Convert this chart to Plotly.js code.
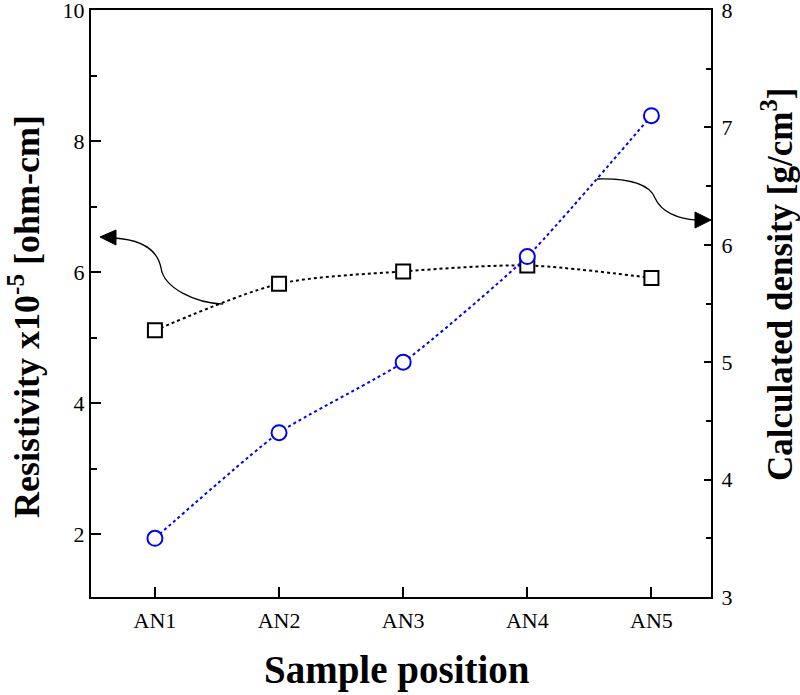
<!DOCTYPE html>
<html>
<head>
<meta charset="utf-8">
<script src="https://cdn.plot.ly/plotly-3.0.1.min.js"></script>
<style>
  html, body { margin: 0; padding: 0; background: #fff; }
  #plot { width: 800px; height: 695px; }
</style>
</head>
<body>
<div id="plot"></div>
<script>
  // sample positions along the bar
  let samples = ["AN1", "AN2", "AN3", "AN4", "AN5"];
  // resistivity x10^-5 ohm-cm (squares, left axis)
  let resistivity = [5.11, 5.82, 6.01, 6.1, 5.91];
  // calculated density g/cm3 (circles, right axis)
  let density = [3.5, 4.4, 5.0, 5.9, 7.1];

  let W = 800, H = 695;
  let M = { l: 91, r: 89, t: 10, b: 98 };
  let plotW = W - M.l - M.r, plotH = H - M.t - M.b;

  // pixel -> paper helpers, only used for the decorative arrows
  let px = (X) => ((X - M.l) / plotW).toFixed(4);
  let py = (Y) => ((H - M.b - Y) / plotH).toFixed(4);
  let pathOf = (pts) =>
    pts
      .map((seg) => seg[0] + " " + seg.slice(1).map((p) => px(p[0]) + "," + py(p[1])).join(" "))
      .join(" ");

  let serif = "Liberation Serif, Times New Roman, serif";
  let tickFont = { family: serif, size: 22, color: "#000" };
  let titleFont = { family: serif, size: 36, color: "#000" };

  let traces = [
    {
      x: samples,
      y: resistivity,
      type: "scatter",
      mode: "lines+markers",
      line: { color: "#000", width: 2, dash: "dot", shape: "spline", smoothing: 0.8 },
      marker: { symbol: "square", size: 14, color: "#fff", line: { width: 2, color: "#000" } },
      yaxis: "y",
      hoverinfo: "x+y",
    },
    {
      x: samples,
      y: density,
      type: "scatter",
      mode: "lines+markers",
      line: { color: "#0000ff", width: 2, dash: "dot", shape: "spline", smoothing: 0.5 },
      marker: { symbol: "circle", size: 15, color: "#fff", line: { width: 2, color: "#0000ff" } },
      yaxis: "y2",
      hoverinfo: "x+y",
    },
  ];

  let axisCommon = {
    showline: true,
    linecolor: "#000",
    linewidth: 2,
    showgrid: false,
    zeroline: false,
    ticks: "inside",
    ticklen: 10,
    tickwidth: 2,
    tickcolor: "#000",
    tickfont: tickFont,
    ticklabeloverflow: "allow",
  };

  let layout = {
    width: W,
    height: H,
    margin: M,
    paper_bgcolor: "#fff",
    plot_bgcolor: "#fff",
    showlegend: false,
    xaxis: {
      ...axisCommon,
      type: "category",
      range: [-0.515, 4.48],
      mirror: true,
      ticklabelstandoff: 3,
    },
    yaxis: {
      ...axisCommon,
      range: [1.04, 10],
      tickvals: [2, 4, 6, 8, 10],
      ticklabelstandoff: 0,
      minor: { tickvals: [3, 5, 7, 9], ticks: "inside", ticklen: 6, tickwidth: 2, tickcolor: "#000" },
    },
    yaxis2: {
      ...axisCommon,
      overlaying: "y",
      side: "right",
      range: [3, 8],
      tickvals: [3, 4, 5, 6, 7, 8],
      ticklen: 7,
      ticklabelstandoff: 4,
      minor: { tickvals: [3.5, 4.5, 5.5, 6.5, 7.5], ticks: "inside", ticklen: 5, tickwidth: 2, tickcolor: "#000" },
    },
    annotations: [
      {
        xref: "paper", yref: "paper",
        x: 0.4935, y: -0.125,
        xanchor: "center", yanchor: "middle",
        text: "<b>Sample position</b>",
        showarrow: false,
        font: { ...titleFont, size: 39 },
      },
      {
        xref: "paper", yref: "paper",
        x: px(24), y: py(316),
        xanchor: "center", yanchor: "middle",
        textangle: -90,
        text: "<b>Resistivity x10<sup>-5</sup> [ohm-cm]</b>",
        showarrow: false,
        font: titleFont,
      },
      {
        xref: "paper", yref: "paper",
        x: px(777), y: py(285),
        xanchor: "center", yanchor: "middle",
        textangle: -90,
        text: "<b>Calculated density [g/cm<sup>3</sup>]</b>",
        showarrow: false,
        font: { ...titleFont, size: 35 },
      },
    ],
    shapes: [
      // left arrow: squares -> resistivity axis
      {
        type: "path", xref: "paper", yref: "paper",
        path: pathOf([["M", [223, 304]], ["C", [195, 303], [164, 288], [161, 268]], ["C", [158, 252], [145, 240], [114, 238]]]),
        line: { color: "#000", width: 1.3 },
      },
      {
        type: "path", xref: "paper", yref: "paper",
        path: pathOf([["M", [100, 237]], ["L", [116, 230]], ["L", [116, 245]]]) + " Z",
        fillcolor: "#000",
        line: { color: "#000", width: 1 },
      },
      // right arrow: circles -> density axis
      {
        type: "path", xref: "paper", yref: "paper",
        path: pathOf([["M", [597, 179]], ["C", [630, 178], [650, 185], [655, 198]], ["C", [661, 212], [678, 219], [697, 220]]]),
        line: { color: "#000", width: 1.3 },
      },
      {
        type: "path", xref: "paper", yref: "paper",
        path: pathOf([["M", [711, 220]], ["L", [695, 212]], ["L", [695, 228]]]) + " Z",
        fillcolor: "#000",
        line: { color: "#000", width: 1 },
      },
    ],
  };

  Plotly.newPlot("plot", traces, layout, { staticPlot: true, displayModeBar: false });
</script>
</body>
</html>
